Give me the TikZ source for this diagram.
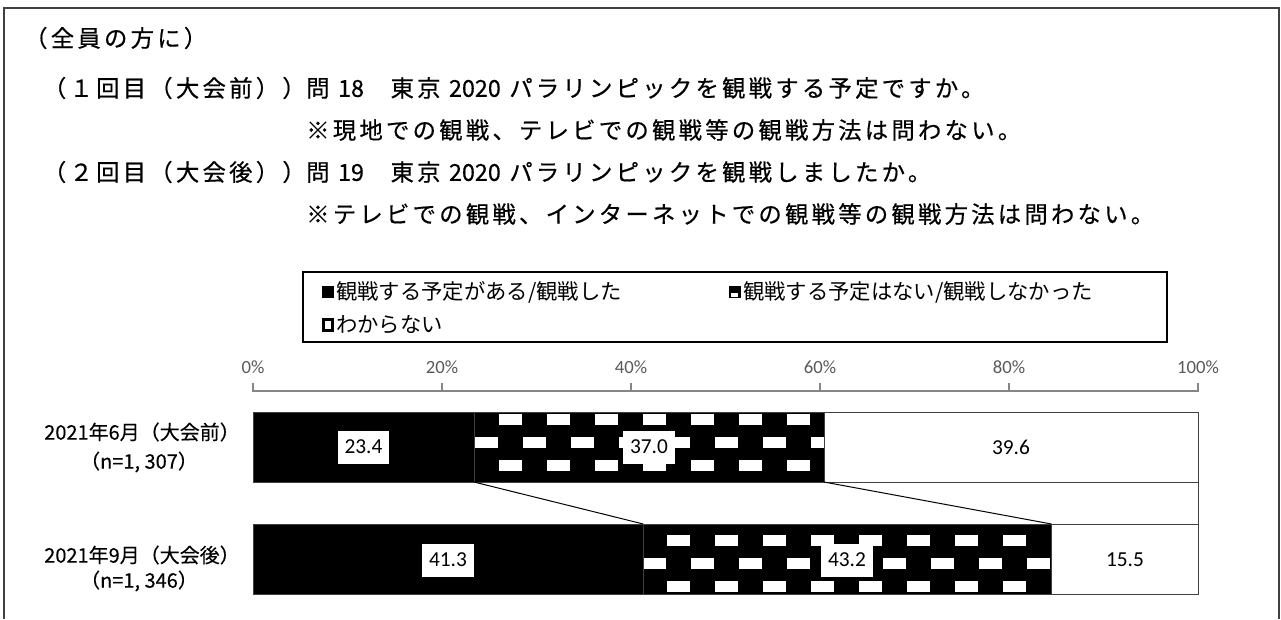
\documentclass[tikz,border=0pt]{standalone}
\usepackage{fontspec}
\setmainfont{Carlito}
\newfontfamily\jpfont{Noto Sans CJK JP}
\newfontfamily\jprow[FakeBold=0.3]{Noto Sans CJK JP}
\newfontfamily\jphead[LetterSpace=14,FakeBold=0.5]{Noto Sans CJK JP}
\newfontfamily\jpnum[FakeBold=0.5]{Noto Sans CJK JP}
\usetikzlibrary{calc}
\definecolor{axisgray}{RGB}{134,134,134}
\definecolor{labelgray}{RGB}{89,89,89}
\definecolor{framegray}{RGB}{64,64,64}
% white bricks on a black segment: (left:right:top:x0:y0)
\def\brickfill(#1:#2:#3:#4:#5){%
	\begin{scope}
		\clip (#1,#3) rectangle (#2,#3+70);
		\foreach \j in {0,...,3}{
			\foreach \k in {-1,...,9}{
				\fill[white] ({#4+48*\k-24*mod(\j,2)},{#5+23*\j}) rectangle ++(23,11);
			}
		}
	\end{scope}}

\begin{document}
\begin{tikzpicture}[x=0.75pt, y=-0.75pt,
	head/.style={anchor=west, inner sep=0pt, font=\jphead\fontsize{17.5}{21}\selectfont},
	leg/.style={anchor=west, inner sep=0pt, font=\jpfont\fontsize{16}{19}\selectfont},
	rowlbl/.style={inner sep=0pt, font=\jprow\fontsize{15}{18}\selectfont},
	axislbl/.style={inner sep=0pt, text=labelgray, font=\fontsize{14}{16}\selectfont},
	val/.style={fill=white, inner xsep=5pt, inner ysep=0pt, minimum height=24.75pt, font=\fontsize{16}{19}\selectfont},
	seg/.style={draw=framegray, line width=0.75pt}]
		%%%%% START %%%%%
		\useasboundingbox (0,0) rectangle (1281,619);
		\draw[framegray, line width=1pt] (4,619) -- (4,8) -- (1279,8) -- (1279,619);
		
		%%%%% QUESTION %%%%%
		\node[head] (q0) at (24,38) {（全員の方に）};
		\node[head, anchor=east] (p1) at (306,88) {（１回目（大会前））};
		\node[head] (q1) at (306,88) {問 {\jpnum 18}　東京 {\jpnum 2020} パラリンピックを観戦する予定ですか。};
		\node[head] (n1) at (306,130) {※現地での観戦、テレビでの観戦等の観戦方法は問わない。};
		\node[head, anchor=east] (p2) at (306,172) {（２回目（大会後））};
		\node[head] (q2) at (306,172) {問 {\jpnum 19}　東京 {\jpnum 2020} パラリンピックを観戦しましたか。};
		\node[head] (n2) at (306,214) {※テレビでの観戦、インターネットでの観戦等の観戦方法は問わない。};
		
		%%%%% LEGEND %%%%%
		\draw[line width=1.8pt] (303,272) rectangle (1167,342);
		\fill (322,286) rectangle (334,298);
		\node[leg] (l1) at (336,292) {観戦する予定がある/観戦した};
		\fill (729,286) rectangle (741,298);
		\fill[white] (731,293) rectangle (738,297);
		\node[leg] (l2) at (743,292) {観戦する予定はない/観戦しなかった};
		\draw[line width=1.8pt] (323.5,319.5) rectangle (332.5,330.5);
		\node[leg] (l3) at (336,325) {わからない};
		
		%%%%% AXIS %%%%%
		\draw[axisgray, line width=1.5pt] (253,383) -- (253,391) -- (1198,391) -- (1198,383);
		\foreach \p in {1,...,4}
			\draw[axisgray, line width=1.5pt] ({253+189*\p},391) -- ++(0,-8);
		\foreach \p in {0,...,5}
			\node[axislbl] (ax\p) at ({253+189*\p},367) {\the\numexpr20*\p\relax\%};
		
		%%%%% BARS %%%%%
		\fill (253,412) rectangle (824,482);
		\brickfill(474:824:412:499:414)
		\draw[seg] (253,412) rectangle (1198,482);
		\draw[seg] (474,412) -- (474,482);
		\draw[seg] (824,412) -- (824,482);
		
		\fill (253,524) rectangle (1051.5,594);
		\brickfill(643.3:1051.5:524:667:535)
		\draw[seg] (253,524) rectangle (1198,594);
		\draw[seg] (643.3,524) -- (643.3,594);
		\draw[seg] (1051.5,524) -- (1051.5,594);
		
		% series lines
		\coordinate (b1a) at (474,482);
		\coordinate (b1b) at (824,482);
		\coordinate (b1c) at (1198,482);
		\coordinate (b2a) at (643.3,524);
		\coordinate (b2b) at (1051.5,524);
		\coordinate (b2c) at (1198,524);
		\draw[line width=0.75pt] (b1a) -- (b2a);
		\draw[line width=0.75pt] (b1b) -- (b2b);
		\draw[seg] (b1c) -- (b2c);
		
		% values
		\node[val] (v11) at (363.5,447) {23.4};
		\node[val] (v12) at (649,447) {37.0};
		\node[val] (v13) at (1011,447) {39.6};
		\node[val] (v21) at (448,560) {41.3};
		\node[val] (v22) at (847,560) {43.2};
		\node[val] (v23) at (1125,560) {15.5};
		
		% rows
		\node[rowlbl] (r1) at (142,432) {2021年6月（大会前）};
		\node[rowlbl] (r1n) at (139,462) {（n=1, 307）};
		\node[rowlbl] (r2) at (142,555) {2021年9月（大会後）};
		\node[rowlbl] (r2n) at (139,581) {（n=1, 346）};
		%%%%% END %%%%%
\end{tikzpicture}
\end{document}
